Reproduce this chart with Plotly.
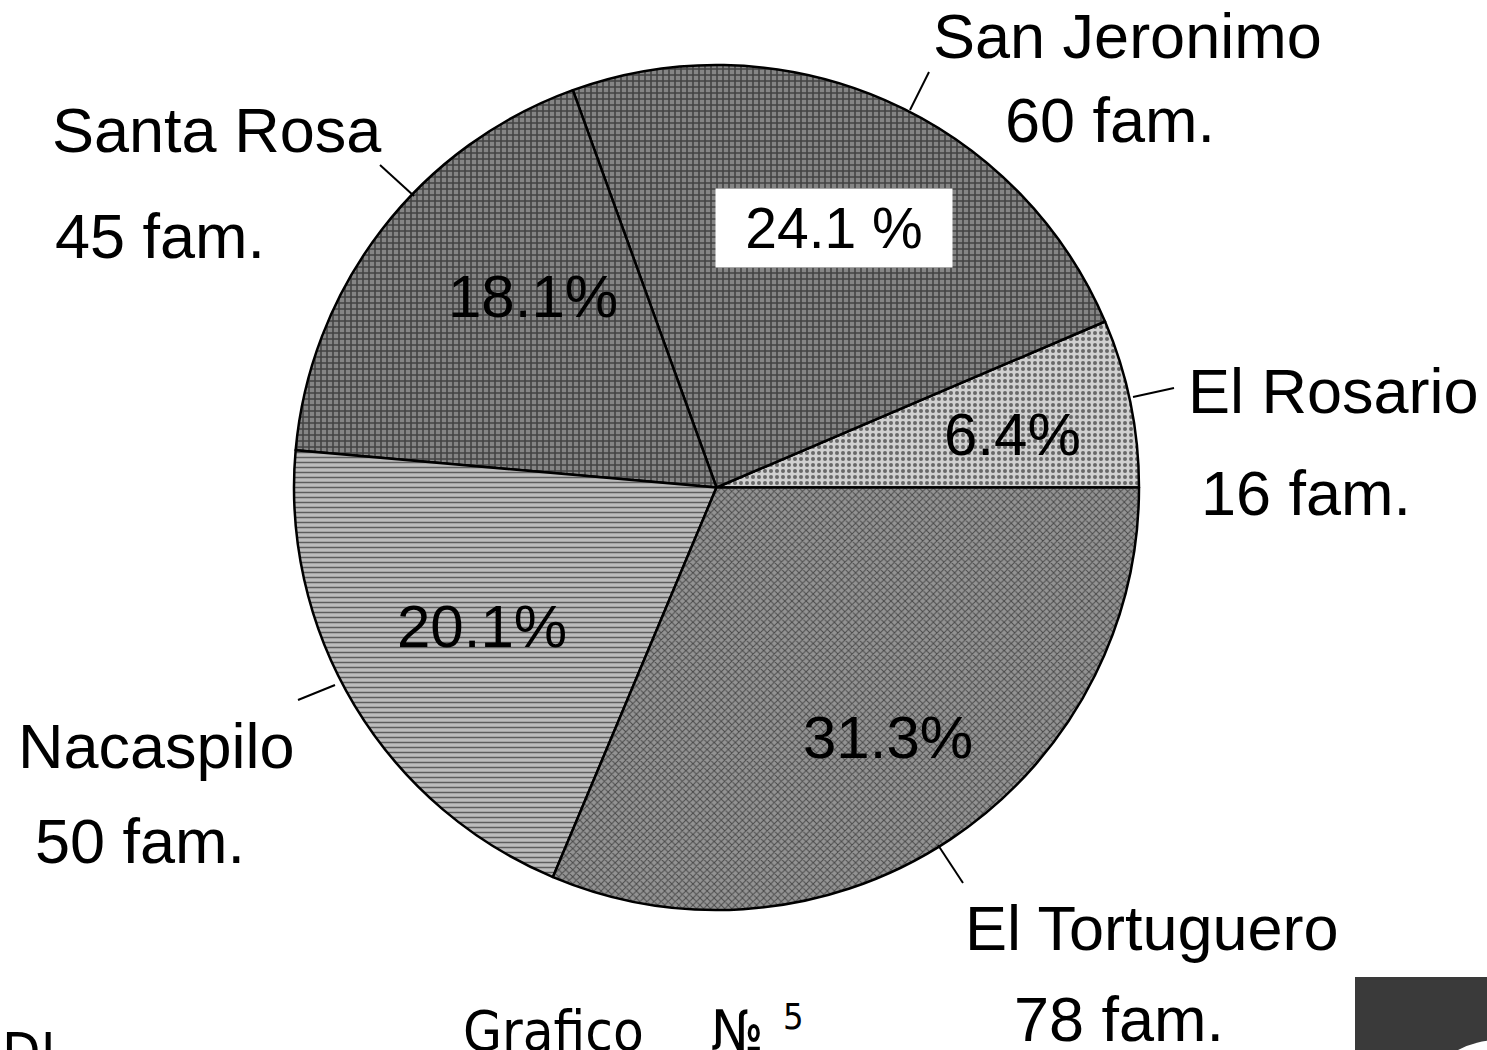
import plotly.graph_objects as go

# Families per community
communities = ["El Rosario", "San Jeronimo", "Santa Rosa", "Nacaspilo", "El Tortuguero"]
families = [16, 60, 45, 50, 78]

# Slice fills (grey halftone look)
slice_colors = ["#d0d0d0", "#858585", "#858585", "#bdbdbd", "#939393"]
pattern_shapes = [".", "+", "+", "-", "x"]
pattern_sizes = [6, 6, 6, 5, 5]
pattern_solidity = [0.35, 0.45, 0.45, 0.3, 0.35]

W, H = 1487, 1050
total = sum(families)
pct = [v / total * 100 for v in families]


def px(x, y):
    """Pixel position -> paper coordinates."""
    return x / W, 1 - y / H


fig = go.Figure()
fig.add_trace(go.Pie(
    labels=communities,
    values=families,
    sort=False,
    direction="counterclockwise",
    # first slice starts at 3 o'clock and runs counterclockwise
    rotation=90 - 360 * families[0] / total,
    textinfo="none",
    hoverinfo="label+value+percent",
    showlegend=False,
    domain=dict(x=[293 / W, 1140 / W], y=[1 - 910 / H, 1 - 65 / H]),
    marker=dict(
        colors=slice_colors,
        line=dict(color="black", width=2.5),
        pattern=dict(
            shape=pattern_shapes,
            fgcolor="black",
            size=pattern_sizes,
            solidity=pattern_solidity,
            fillmode="overlay",
        ),
    ),
))

label_font = dict(family="Liberation Sans, Arial, sans-serif", size=63, color="black")
pct_font = dict(family="Liberation Sans, Arial, sans-serif", size=60, color="black")

# Community names and family counts outside the pie
name_pos = {
    "San Jeronimo": (1127, 36),
    "Santa Rosa": (217, 130),
    "El Rosario": (1333, 391),
    "Nacaspilo": (156, 746),
    "El Tortuguero": (1152, 928),
}
count_pos = {
    "San Jeronimo": (1110, 120),
    "Santa Rosa": (160, 236),
    "El Rosario": (1306, 493),
    "Nacaspilo": (140, 841),
    "El Tortuguero": (1119, 1019),
}
# Percentages inside the slices
pct_pos = {
    "San Jeronimo": (834, 228),
    "Santa Rosa": (533, 296),
    "El Rosario": (1012, 434),
    "Nacaspilo": (482, 626),
    "El Tortuguero": (888, 737),
}
# Leader lines from labels to the rim
leaders = {
    "San Jeronimo": ((929, 72), (910, 110)),
    "Santa Rosa": ((380, 165), (414, 196)),
    "El Rosario": ((1174, 388), (1133, 397)),
    "Nacaspilo": ((298, 700), (335, 685)),
    "El Tortuguero": ((938, 845), (963, 883)),
}


def text_at(pos, text, font, **kw):
    x, y = px(*pos)
    d = dict(x=x, y=y, xref="paper", yref="paper", text=text, showarrow=False,
             xanchor="center", yanchor="middle", font=font)
    d.update(kw)
    return d


annotations = []
shapes = []
for name, n, p in zip(communities, families, pct):
    annotations.append(text_at(name_pos[name], name, label_font))
    annotations.append(text_at(count_pos[name], f"{n} fam.", label_font))
    if name == "San Jeronimo":
        annotations.append(text_at(pct_pos[name], f"{p:.1f} %", dict(pct_font, size=57),
                                   bgcolor="white", width=234, height=76))
    else:
        annotations.append(text_at(pct_pos[name], f"{p:.1f}%", pct_font))
    (x0, y0), (x1, y1) = leaders[name]
    a0, b0 = px(x0, y0)
    a1, b1 = px(x1, y1)
    shapes.append(dict(type="line", xref="paper", yref="paper", x0=a0, y0=b0, x1=a1, y1=b1,
                       line=dict(color="black", width=2)))

# Caption along the bottom edge
cap_font = dict(family="DejaVu Sans Condensed, Liberation Sans Narrow, sans-serif",
                size=56, color="black")
annotations.append(text_at((553, 1030), "Grafico", cap_font))
annotations.append(text_at((737, 1030), "№", cap_font))
annotations.append(text_at((794, 1016), "5", dict(cap_font, size=36)))
annotations.append(text_at((0, 1052), "DI", cap_font, xanchor="left"))

# Dark block in the lower right corner
bx0, by0 = px(1355, 977)
bx1, by1 = px(W, H)
shapes.append(dict(type="rect", xref="paper", yref="paper", x0=bx0, y0=by0, x1=bx1, y1=by1,
                   fillcolor="#3a3a3a", line=dict(width=0)))
ex0, ey0 = px(1440, 1040)
ex1, ey1 = px(1560, 1110)
shapes.append(dict(type="circle", xref="paper", yref="paper", x0=ex0, y0=ey0, x1=ex1, y1=ey1,
                   fillcolor="white", line=dict(width=0)))

fig.update_layout(
    width=W, height=H,
    margin=dict(l=0, r=0, t=0, b=0),
    paper_bgcolor="white",
    plot_bgcolor="white",
    annotations=annotations,
    shapes=shapes,
)

fig.write_html("out.html")
